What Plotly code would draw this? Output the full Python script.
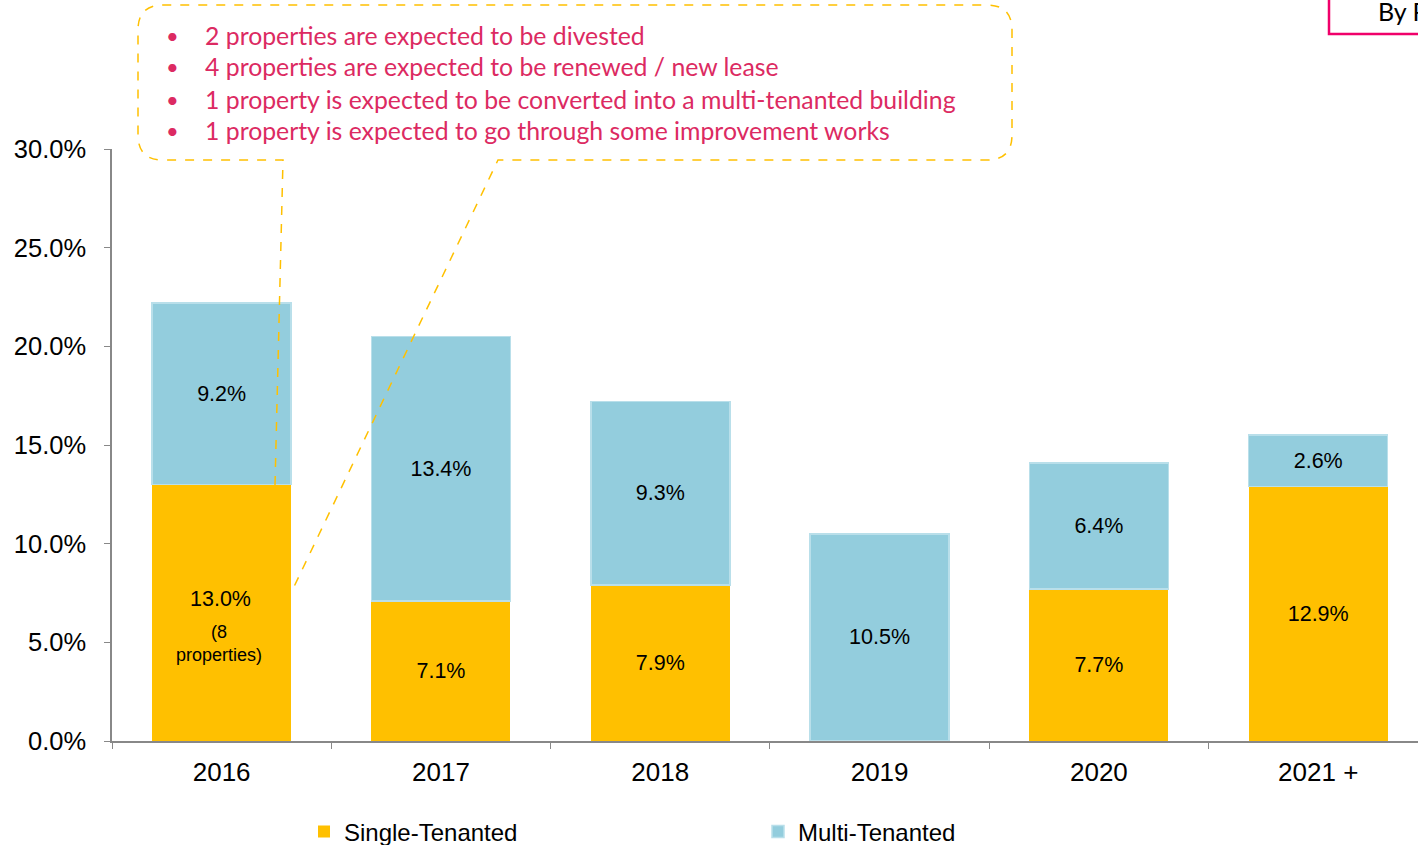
import plotly.graph_objects as go

categories = ["2016", "2017", "2018", "2019", "2020", "2021 +"]
single_tenanted = [13.0, 7.1, 7.9, 0.0, 7.7, 12.9]
multi_tenanted = [9.2, 13.4, 9.3, 10.5, 6.4, 2.6]
single_labels = ["", "7.1%", "7.9%", "", "7.7%", "12.9%"]
multi_labels = ["9.2%", "13.4%", "9.3%", "10.5%", "6.4%", "2.6%"]
note_2016_value = "13.0%"
note_2016_detail = "(8<br>properties)"
y_ticks = [0, 5, 10, 15, 20, 25, 30]
y_tick_labels = ["0.0%", "5.0%", "10.0%", "15.0%", "20.0%", "25.0%", "30.0%"]
callout_lines = [
    "2 properties are expected to be divested",
    "4 properties are expected to be renewed / new lease",
    "1 property is expected to be converted into a multi-tenanted building",
    "1 property is expected to go through some improvement works",
]

W, H = 1418, 845
L, R, T, B = 112, 0, 149, 104
PW, PH = W - L - R, H - T - B

def px(x):
    return (x - L) / PW

def py(y):
    return (H - B - y) / PH

YELLOW = "#FFC000"
BLUE = "#93CDDD"
PINK = "#DC2A62"
FONT = "Liberation Sans, Arial, sans-serif"
CAL = "Lato, sans-serif"

fig = go.Figure()
fig.add_trace(go.Bar(
    x=categories, y=single_tenanted, name="Single-Tenanted",
    marker=dict(color=YELLOW, line=dict(width=0)),
    text=single_labels, textposition="inside", insidetextanchor="middle",
    textangle=0, constraintext="none",
    textfont=dict(family=FONT, size=21.5, color="#000000"),
))
fig.add_trace(go.Bar(
    x=categories, y=multi_tenanted, name="Multi-Tenanted",
    marker=dict(color=BLUE, line=dict(color="#B9DFEA", width=1.5)),
    text=multi_labels, textposition="inside", insidetextanchor="middle",
    textangle=0, constraintext="none",
    textfont=dict(family=FONT, size=21.5, color="#000000"),
))

# 2016 single-tenanted label (value + detail), placed at the segment centre
idx_2016 = categories.index("2016")
fig.add_annotation(x=idx_2016, y=single_tenanted[idx_2016] / 2, xref="x", yref="y",
                   text=note_2016_value, showarrow=False, yshift=14, xshift=-1,
                   font=dict(family=FONT, size=21.5, color="#000000"))
fig.add_annotation(x=idx_2016, y=single_tenanted[idx_2016] / 2, xref="x", yref="y",
                   text=note_2016_detail, showarrow=False, yshift=-31, xshift=-3,
                   font=dict(family=FONT, size=18, color="#000000"))

# callout box with pointer lines (pixel positions converted to paper coords)
path = f"M {px(275)},{py(485)} L {px(283)},{py(160)} L {px(163)},{py(160)} "
path += f"Q {px(138)},{py(160)} {px(138)},{py(135)} "
path += f"L {px(138)},{py(30)} Q {px(138)},{py(5)} {px(163)},{py(5)} "
path += f"L {px(987)},{py(5)} Q {px(1012)},{py(5)} {px(1012)},{py(30)} "
path += f"L {px(1012)},{py(135)} Q {px(1012)},{py(160)} {px(987)},{py(160)} "
path += f"L {px(498)},{py(160)} L {px(291)},{py(593)}"
fig.add_shape(type="path", path=path, xref="paper", yref="paper",
              line=dict(color=YELLOW, width=1.5, dash="dash"), layer="above")

for i, line in enumerate(callout_lines):
    yy = 35 + i * 32
    fig.add_annotation(x=px(172), y=py(yy), xref="paper", yref="paper",
                       text="•", showarrow=False, xanchor="center", yanchor="middle",
                       font=dict(family=CAL, size=22, color=PINK))
    fig.add_annotation(x=px(203), y=py(yy), xref="paper", yref="paper",
                       text=line, showarrow=False, xanchor="left", yanchor="middle",
                       font=dict(family=CAL, size=24.8, color=PINK))

# top-right box
fig.add_shape(type="rect", xref="paper", yref="paper",
              x0=px(1329), x1=px(1430), y0=py(34), y1=py(-10),
              line=dict(color="#F0006A", width=2.5), fillcolor="rgba(0,0,0,0)")
fig.add_annotation(x=px(1376), y=py(11), xref="paper", yref="paper",
                   text="By Rental Income", showarrow=False, xanchor="left", yanchor="middle",
                   font=dict(family=CAL, size=25, color="#000000"))

fig.update_layout(
    width=W, height=H,
    margin=dict(l=L, r=R, t=T, b=B, autoexpand=False),
    barmode="stack", bargap=0.366,
    plot_bgcolor="white", paper_bgcolor="white",
    font=dict(family=FONT, size=22, color="#000000"),
    showlegend=True,
    legend=dict(orientation="h", x=px(304), y=py(832), xanchor="left", yanchor="middle",
                entrywidth=409, entrywidthmode="pixels",
                font=dict(family=FONT, size=24, color="#000000"),
                traceorder="normal", itemclick=False),
    xaxis=dict(type="category", range=[-0.5, 5.455], showline=True, linecolor="#888888",
               linewidth=1.5, ticks="outside", tickson="boundaries", ticklen=6,
               tickcolor="#888888", showgrid=False, ticklabelstandoff=7,
               tickfont=dict(size=26, family=FONT)),
    yaxis=dict(range=[0, 30], tickvals=y_ticks, ticktext=y_tick_labels, showline=True,
               linecolor="#888888", linewidth=1.5, ticks="outside", ticklen=6,
               tickcolor="#888888", showgrid=False, zeroline=False,
               ticklabelstandoff=13, tickfont=dict(size=25.5, family=FONT)),
)

fig.write_html("out.html", config={"displayModeBar": False},
               post_script="document.body.style.margin='0';document.body.style.overflow='hidden';")
